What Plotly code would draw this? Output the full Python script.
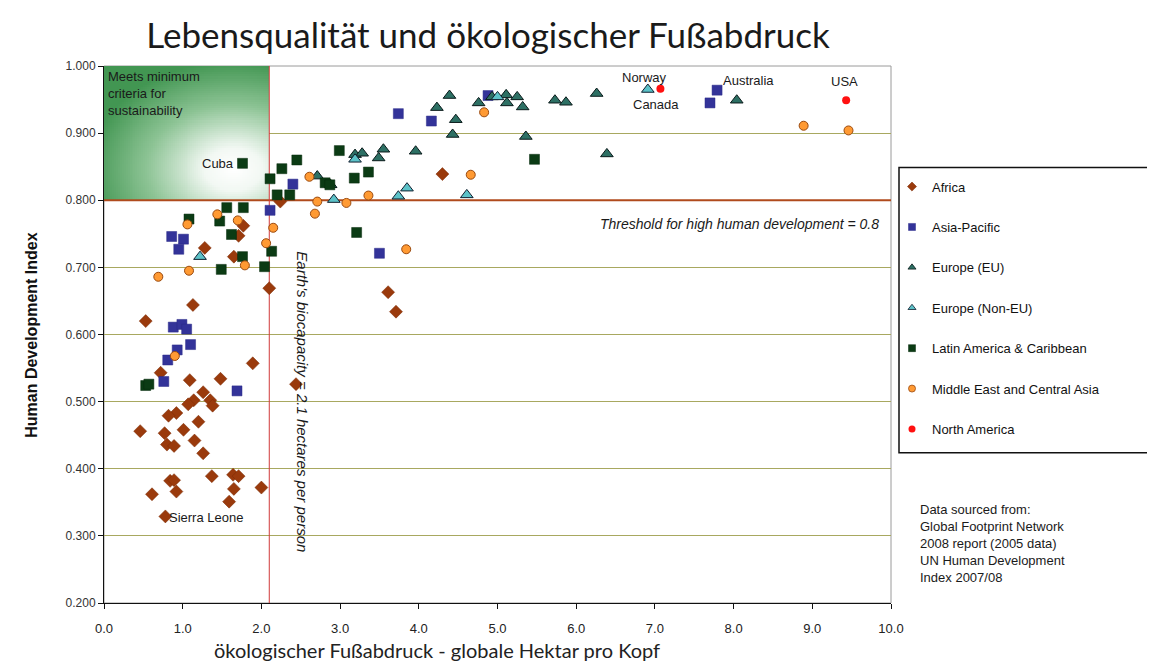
import numpy as np
import plotly.graph_objects as go

# ---------------- data ----------------
africa_x = [2.24, 1.28, 1.65, 1.77, 1.71, 2.10, 1.13, 0.53, 1.89, 0.72, 1.09, 1.48, 1.26, 1.35,
            1.38, 1.14, 1.07, 0.92, 0.82, 1.20, 0.46, 0.77, 1.01, 1.15, 0.80, 0.89, 1.26, 0.84,
            0.89, 0.92, 0.61, 1.37, 1.64, 1.71, 1.65, 1.59, 2.00, 0.78, 2.44, 3.61, 3.71, 4.30]
africa_y = [0.798, 0.729, 0.716, 0.762, 0.747, 0.669, 0.644, 0.620, 0.557, 0.543, 0.532, 0.534, 0.514, 0.502,
            0.494, 0.502, 0.496, 0.483, 0.479, 0.470, 0.456, 0.453, 0.458, 0.442, 0.436, 0.434, 0.423, 0.382,
            0.383, 0.366, 0.362, 0.389, 0.391, 0.389, 0.370, 0.351, 0.372, 0.329, 0.526, 0.663, 0.634, 0.839]

asia_x = [2.40, 2.11, 0.86, 1.01, 0.95, 0.88, 0.99, 1.05, 1.10, 0.93, 0.81, 0.76, 1.69, 3.50,
          3.74, 4.16, 4.88, 7.79, 7.70]
asia_y = [0.824, 0.785, 0.746, 0.742, 0.727, 0.611, 0.615, 0.608, 0.585, 0.577, 0.562, 0.530, 0.516, 0.721,
          0.929, 0.918, 0.956, 0.964, 0.945]

eu_x = [2.71, 2.88, 3.19, 3.28, 3.49, 3.55, 3.96, 4.23, 4.39, 4.47, 4.43, 4.76, 4.93, 5.11,
        5.12, 5.25, 5.32, 5.36, 5.73, 5.87, 6.26, 6.39, 8.04]
eu_y = [0.836, 0.823, 0.868, 0.870, 0.863, 0.876, 0.873, 0.938, 0.956, 0.920, 0.898, 0.945, 0.954, 0.957,
        0.945, 0.954, 0.939, 0.895, 0.949, 0.946, 0.959, 0.869, 0.949]

noneu_x = [1.22, 2.92, 3.19, 3.74, 3.85, 4.61, 5.00, 6.91]
noneu_y = [0.716, 0.801, 0.861, 0.806, 0.818, 0.808, 0.954, 0.965]

latam_x = [1.76, 2.45, 2.26, 2.11, 2.20, 2.36, 1.56, 1.77, 1.08, 1.47, 1.62, 1.76, 2.13, 1.49,
           2.04, 0.53, 0.57, 2.99, 3.36, 3.18, 2.81, 2.87, 3.21, 5.47]
latam_y = [0.855, 0.860, 0.847, 0.832, 0.808, 0.808, 0.789, 0.789, 0.772, 0.769, 0.749, 0.716, 0.724, 0.697,
           0.701, 0.524, 0.526, 0.874, 0.842, 0.833, 0.826, 0.823, 0.752, 0.861]

mideast_x = [2.61, 1.44, 1.70, 1.06, 2.15, 2.06, 2.68, 2.71, 3.08, 3.36, 0.69, 1.08, 1.79, 0.90,
             3.84, 4.66, 4.83, 8.89, 9.46]
mideast_y = [0.835, 0.779, 0.770, 0.764, 0.759, 0.736, 0.780, 0.798, 0.796, 0.807, 0.686, 0.695, 0.703, 0.568,
             0.727, 0.838, 0.931, 0.911, 0.904]

namerica_x = [7.07, 9.43]
namerica_y = [0.966, 0.949]

biocapacity = 2.1
hdi_threshold = 0.8

x_ticks = [0, 1, 2, 3, 4, 5, 6, 7, 8, 9, 10]
y_ticks = [0.2, 0.3, 0.4, 0.5, 0.6, 0.7, 0.8, 0.9, 1.0]

# labelled countries: (name, x, y)
cuba = ("Cuba", latam_x[0], latam_y[0])
sierra = ("Sierra Leone", africa_x[37], africa_y[37])
norway = ("Norway", noneu_x[7], noneu_y[7])
canada = ("Canada", namerica_x[0], namerica_y[0])
australia = ("Australia", asia_x[17], asia_y[17])
usa = ("USA", namerica_x[1], namerica_y[1])

# ---------------- geometry helpers (page has an 8px body margin) ----------------
W, H = 1147, 660
PX0, PX1 = 104, 891      # plot area left/right on screen
PY0, PY1 = 66.5, 603     # plot area top/bottom on screen


def px_to_paper_x(px):
    return (px - PX0) / (PX1 - PX0)


def py_to_paper_y(py):
    return (PY1 - py) / (PY1 - PY0)


# ---------------- figure ----------------
fig = go.Figure()

# green "sustainability" box with radial-ish gradient
nx, ny = 84, 64
ex = np.linspace(0, biocapacity, nx + 1)
ey = np.linspace(hdi_threshold, 1.0, ny + 1)
cx = (ex[:-1] + ex[1:]) / 2
cy = (ey[:-1] + ey[1:]) / 2
CX, CY = np.meshgrid(cx, cy)
d = np.sqrt(((CX - 1.65) / 1.85) ** 2 + ((CY - 0.846) / 0.16) ** 2)
z = np.clip(d, 0, 1)
fig.add_trace(go.Heatmap(
    x=ex, y=ey, z=z, zmin=0, zmax=1, showscale=False, hoverinfo="skip",
    colorscale=[[0, "rgb(255,255,255)"], [0.2, "rgb(242,248,243)"], [0.6, "rgb(140,195,148)"],
                [1, "rgb(66,150,82)"]],
    showlegend=False,
))

# reference lines
fig.add_trace(go.Scatter(x=[0, 10], y=[hdi_threshold, hdi_threshold], mode="lines",
                         line=dict(color="#B04A1C", width=2), hoverinfo="skip", showlegend=False))
fig.add_trace(go.Scatter(x=[biocapacity, biocapacity], y=[0.2, 1.0], mode="lines",
                         line=dict(color="#D03A3A", width=1), hoverinfo="skip", showlegend=False))

series = [
    ("Africa", africa_x, africa_y, dict(symbol="diamond", size=10, color="#9A3A0C",
                                        line=dict(color="#7A2A05", width=0.5))),
    ("Asia-Pacific", asia_x, asia_y, dict(symbol="square", size=10, color="#333399",
                                           line=dict(color="#2A2A88", width=0.5))),
    ("Europe (EU)", eu_x, eu_y, dict(symbol="triangle-up", size=11, color="#2D7064",
                                      line=dict(color="#0A1A1A", width=1))),
    ("Europe (Non-EU)", noneu_x, noneu_y, dict(symbol="triangle-up", size=11, color="#5CC2C8",
                                                line=dict(color="#102030", width=1))),
    ("Latin America & Caribbean", latam_x, latam_y, dict(symbol="square", size=10, color="#0B3B14",
                                                          line=dict(color="#062A0C", width=0.5))),
    ("Middle East and Central Asia", mideast_x, mideast_y, dict(symbol="circle", size=9, color="#FF9A33",
                                                                 line=dict(color="#9A4A10", width=1))),
    ("North America", namerica_x, namerica_y, dict(symbol="circle", size=8, color="#FF1010",
                                                   line=dict(color="#FF1010", width=0))),
]
for i, (name, xs, ys, mk) in enumerate(series):
    fig.add_trace(go.Scatter(x=xs, y=ys, mode="markers", name=name, marker=mk,
                             legendgroup=f"g{i}", showlegend=False))
# small legend symbols (legend-only entries, linked to the series above)
for i, (name, xs, ys, mk) in enumerate(series):
    small = dict(mk)
    small["size"] = 7
    small["line"] = dict(color=mk["line"]["color"], width=min(mk["line"]["width"], 0.8))
    fig.add_trace(go.Scatter(x=[None], y=[None], mode="markers", name=name, marker=small,
                             legendgroup=f"g{i}", showlegend=True, hoverinfo="skip"))

ann_font = dict(family="Liberation Sans, Arial, sans-serif", size=13, color="#1a1a1a")
annotations = [
    dict(x=cuba[1], y=cuba[2], text=cuba[0], xanchor="right", yanchor="middle", xshift=-7,
         showarrow=False, font=ann_font),
    dict(x=sierra[1], y=sierra[2], text=sierra[0], xanchor="left", yanchor="middle", xshift=2, yshift=-1,
         showarrow=False, font=ann_font),
    dict(x=norway[1], y=norway[2], text=norway[0], xanchor="center", yanchor="bottom", xshift=-3, yshift=2,
         showarrow=False, font=ann_font),
    dict(x=canada[1], y=canada[2], text=canada[0], xanchor="center", yanchor="top", xshift=-4, yshift=-6,
         showarrow=False, font=ann_font),
    dict(x=australia[1], y=australia[2], text=australia[0], xanchor="left", yanchor="middle", xshift=4,
         yshift=10, showarrow=False, font=ann_font),
    dict(x=usa[1], y=usa[2], text=usa[0], xanchor="center", yanchor="bottom", xshift=-2, yshift=9,
         showarrow=False, font=ann_font),
    dict(x=0, y=1.0, text="Meets minimum<br>criteria for<br>sustainability", xanchor="left", yanchor="top",
         xshift=2, yshift=-1, align="left", showarrow=False, font=ann_font),
    dict(x=9.87, y=hdi_threshold, text="<i>Threshold for high human development = 0.8</i>",
         xanchor="right", yanchor="middle", yshift=-24, showarrow=False,
         font=dict(family="Liberation Sans, Arial, sans-serif", size=14, color="#1a1a1a")),
    dict(x=biocapacity, y=0.5, text="<i>Earth's biocapacity = 2.1 hectares per person</i>",
         textangle=90, xanchor="center", yanchor="middle", xshift=33, showarrow=False,
         font=dict(family="Liberation Sans, Arial, sans-serif", size=15, color="#1a1a1a")),
    dict(xref="paper", yref="paper", x=px_to_paper_x(918), y=py_to_paper_y(500),
         text="Data sourced from:<br>Global Footprint Network<br>2008 report (2005 data)<br>"
              "UN Human Development<br>Index 2007/08",
         xanchor="left", yanchor="top", align="left", showarrow=False, font=ann_font),
    dict(xref="paper", yref="paper", x=px_to_paper_x(437), y=py_to_paper_y(650),
         text="ökologischer Fußabdruck - globale Hektar pro Kopf",
         xanchor="center", yanchor="middle", showarrow=False,
         font=dict(family="Lato, Open Sans, sans-serif", size=20, color="#222222")),
    dict(xref="paper", yref="paper", x=px_to_paper_x(32), y=py_to_paper_y(336),
         text="<b>Human Development Index</b>", textangle=-90,
         xanchor="center", yanchor="middle", showarrow=False,
         font=dict(family="Liberation Sans, Arial, sans-serif", size=16, color="#111111")),
]

shapes = [
    # plot area border (gray)
    dict(type="rect", xref="paper", yref="paper", x0=0, x1=1, y0=0, y1=1,
         line=dict(color="#9A9A9A", width=1), layer="below"),
    # legend box
    dict(type="rect", xref="paper", yref="paper",
         x0=px_to_paper_x(899), x1=px_to_paper_x(1152),
         y0=py_to_paper_y(453), y1=py_to_paper_y(168),
         line=dict(color="#111111", width=1.5), fillcolor="white", layer="below"),
    # outer chart border (left edge)
    dict(type="line", xref="paper", yref="paper", x0=px_to_paper_x(7), x1=px_to_paper_x(7),
         y0=-0.3, y1=1.3, line=dict(color="#8A8A8A", width=1.5)),
]

fig.update_layout(
    width=W, height=H,
    margin=dict(l=PX0 - 8, r=W - (PX1 - 8), t=int(PY0 - 8), b=H - (PY1 - 8), autoexpand=False),
    paper_bgcolor="white", plot_bgcolor="white",
    title=dict(text="Lebensqualität und ökologischer Fußabdruck", x=(488 - 8) / W, xanchor="center",
               y=1 - (36 - 8) / H, yanchor="middle", automargin=False,
               font=dict(family="Lato, Open Sans, sans-serif", size=35, color="#1a1a1a")),
    xaxis=dict(range=[0, 10], tickvals=x_ticks, tickformat=".1f", showgrid=False, zeroline=False,
               showline=True, linecolor="#111111", linewidth=1, ticks="outside", ticklen=5,
               tickcolor="#111111", automargin=False, ticklabelstandoff=8,
               tickfont=dict(family="Liberation Sans Narrow, Arial Narrow, Liberation Sans, sans-serif",
                             size=13, color="#222222")),
    yaxis=dict(range=[0.2, 1.0], tickvals=y_ticks, tickformat=".3f", showgrid=True,
               gridcolor="#A8A860", gridwidth=1, zeroline=False,
               showline=True, linecolor="#111111", linewidth=1, ticks="outside", ticklen=5,
               tickcolor="#111111", automargin=False,
               tickfont=dict(family="Liberation Sans, Arial, sans-serif", size=12, color="#333333")),
    legend=dict(x=px_to_paper_x(892), y=py_to_paper_y(172), xanchor="left", yanchor="top",
                bgcolor="rgba(0,0,0,0)", borderwidth=0, traceorder="grouped", tracegroupgap=20.5,
                font=dict(family="Liberation Sans, Arial, sans-serif", size=13, color="#111111"),
                itemsizing="trace"),
    annotations=annotations,
    shapes=shapes,
)

fig.write_html("out.html")
